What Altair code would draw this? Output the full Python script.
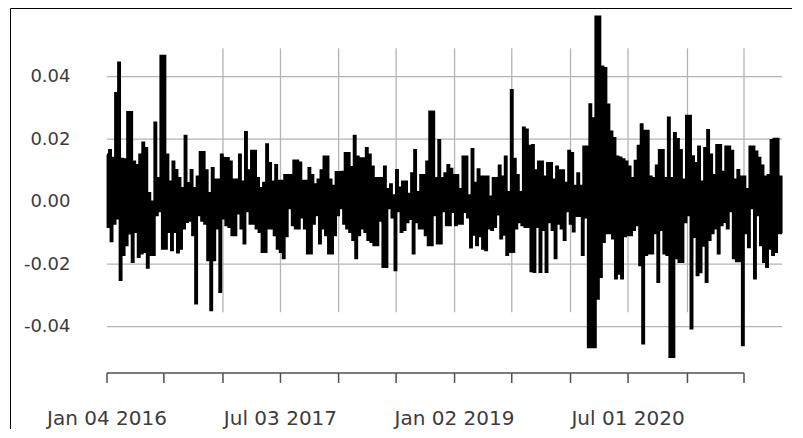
import altair as alt
import pandas as pd

# ---- data (upper / lower envelope of the daily return line) ----
high_1 = [0.0150, 0.0165, 0.0140, 0.0347, 0.0445, 0.0137, 0.0135, 0.0286, 0.0286, 0.0128, 0.0117, 0.0150, 0.0189, 0.0171,
          0.0027, 0.0000, 0.0253, 0.0075, 0.0466, 0.0466, 0.0150, 0.0064, 0.0128, 0.0101, 0.0075, 0.0043, 0.0210, 0.0059]
low_1 = [-0.0080, -0.0126, -0.0070, -0.0053, -0.0250, -0.0170, -0.0139, -0.0101, -0.0192, -0.0096, -0.0176, -0.0165, -0.0160, -0.0211,
         -0.0170, -0.0170, -0.0043, -0.0030, -0.0150, -0.0150, -0.0096, -0.0155, -0.0096, -0.0162, -0.0150, -0.0085, -0.0064, -0.0060]

high_2 = [0.0101, 0.0043, 0.0080, 0.0158, 0.0158, 0.0100, 0.0027, 0.0107, 0.0070, 0.0070, 0.0150, 0.0139, 0.0139, 0.0128,
          0.0070, 0.0070, 0.0150, 0.0064, 0.0222, 0.0100, 0.0162, 0.0162, 0.0075, 0.0043, 0.0060, 0.0183, 0.0123, 0.0064]
low_2 = [-0.0107, -0.0325, -0.0043, -0.0060, -0.0070, -0.0187, -0.0347, -0.0187, -0.0085, -0.0288, -0.0053, -0.0075, -0.0080, -0.0107,
         -0.0107, -0.0037, -0.0085, -0.0133, -0.0030, -0.0070, -0.0070, -0.0085, -0.0096, -0.0160, -0.0160, -0.0085, -0.0085, -0.0107]

high_3 = [0.0117, 0.0066, 0.0066, 0.0085, 0.0085, 0.0085, 0.0131, 0.0131, 0.0125, 0.0066, 0.0066, 0.0107, 0.0085, 0.0055, 0.0070,
          0.0100, 0.0144, 0.0144, 0.0070, 0.0050, 0.0094, 0.0094, 0.0095, 0.0155, 0.0155, 0.0110, 0.0210, 0.0144, 0.0138]
low_3 = [-0.0150, -0.0160, -0.0180, -0.0110, -0.0020, -0.0075, -0.0085, -0.0085, -0.0050, -0.0085, -0.0165, -0.0165, -0.0070, -0.0043,
         -0.0133, -0.0085, -0.0107, -0.0165, -0.0165, -0.0107, -0.0043, -0.0020, -0.0070, -0.0085, -0.0096, -0.0122, -0.0180, -0.0107, -0.0085]

high_4 = [0.0138, 0.0171, 0.0150, 0.0112, 0.0075, 0.0075, 0.0075, 0.0112, 0.0040, 0.0055, 0.0020, 0.0101, 0.0045, 0.0064,
          0.0064, 0.0025, 0.0090, 0.0165, 0.0030, 0.0085, 0.0085, 0.0128, 0.0288, 0.0288, 0.0075, 0.0197, 0.0075, 0.0090]
low_4 = [-0.0096, -0.0122, -0.0128, -0.0139, -0.0139, -0.0060, -0.0208, -0.0208, -0.0020, -0.0050, -0.0219, -0.0030, -0.0096, -0.0090,
         -0.0065, -0.0055, -0.0165, -0.0065, -0.0085, -0.0085, -0.0107, -0.0139, -0.0139, -0.0043, -0.0133, -0.0133, -0.0030, -0.0075]

high_5 = [0.0117, 0.0105, 0.0085, 0.0085, 0.0040, 0.0144, 0.0144, 0.0020, 0.0168, 0.0060, 0.0103, 0.0080, 0.0080, 0.0080,
          0.0016, 0.0075, 0.0075, 0.0115, 0.0080, 0.0144, 0.0030, 0.0357, 0.0137, 0.0085, 0.0030, 0.0237, 0.0230, 0.0178]
low_5 = [-0.0075, -0.0032, -0.0075, -0.0070, -0.0070, -0.0032, -0.0050, -0.0146, -0.0105, -0.0139, -0.0110, -0.0150, -0.0155, -0.0085,
         -0.0090, -0.0080, -0.0040, -0.0117, -0.0105, -0.0170, -0.0160, -0.0160, -0.0085, -0.0065, -0.0075, -0.0080, -0.0080, -0.0222]

high_6 = [0.0181, 0.0100, 0.0128, 0.0128, 0.0080, 0.0123, 0.0123, 0.0070, 0.0112, 0.0100, 0.0100, 0.0060, 0.0162, 0.0155,
          0.0050, 0.0090, 0.0050, 0.0176, 0.0176, 0.0311, 0.0266, 0.0592, 0.0592, 0.0432, 0.0427, 0.0310, 0.0224, 0.0203]
low_6 = [-0.0224, -0.0080, -0.0224, -0.0090, -0.0224, -0.0065, -0.0090, -0.0180, -0.0070, -0.0085, -0.0122, -0.0030, -0.0070, -0.0095,
         -0.0045, -0.0045, -0.0170, -0.0050, -0.0465, -0.0465, -0.0465, -0.0310, -0.0240, -0.0128, -0.0100, -0.0100, -0.0117, -0.0245]

high_7 = [0.0144, 0.0141, 0.0135, 0.0128, 0.0112, 0.0075, 0.0130, 0.0178, 0.0247, 0.0226, 0.0226, 0.0080, 0.0075, 0.0115, 0.0165,
          0.0165, 0.0075, 0.0269, 0.0075, 0.0219, 0.0200, 0.0165, 0.0070, 0.0274, 0.0274, 0.0145, 0.0123, 0.0176, 0.0064]
low_7 = [-0.0230, -0.0245, -0.0110, -0.0107, -0.0107, -0.0090, -0.0075, -0.0203, -0.0453, -0.0170, -0.0165, -0.0165, -0.0100, -0.0256,
         -0.0090, -0.0165, -0.0170, -0.0496, -0.0496, -0.0180, -0.0192, -0.0192, -0.0065, -0.0043, -0.0405, -0.0112, -0.0235, -0.0225, -0.0140]

high_8 = [0.0171, 0.0229, 0.0150, 0.0085, 0.0181, 0.0181, 0.0095, 0.0176, 0.0176, 0.0162, 0.0070, 0.0101, 0.0080,
          0.0080, 0.0040, 0.0176, 0.0176, 0.0160, 0.0140, 0.0115, 0.0080, 0.0085, 0.0197, 0.0201, 0.0201, 0.0080]
low_8 = [-0.0256, -0.0122, -0.0100, -0.0085, -0.0165, -0.0075, -0.0064, -0.0085, -0.0030, -0.0180, -0.0190, -0.0190, -0.0459,
         -0.0100, -0.0145, -0.0020, -0.0245, -0.0043, -0.0139, -0.0192, -0.0208, -0.0150, -0.0170, -0.0160, -0.0100, -0.0100]

first_day = "2016-01-04"
last_day = "2021-10-29"

tick_dates = ["2016-01-04", "2016-07-01", "2017-01-03", "2017-07-03", "2018-01-02", "2018-07-02",
              "2019-01-02", "2019-07-01", "2020-01-02", "2020-07-01", "2021-01-04", "2021-07-01"]
tick_labels = ["Jan 04 2016", "", "", "Jul 03 2017", "", "", "Jan 02 2019", "", "", "Jul 01 2020", "", ""]
grid_dates = tick_dates[2:]
y_ticks = [-0.04, -0.02, 0.0, 0.02, 0.04]

# ---- build table ----
highs = high_1 + high_2 + high_3 + high_4 + high_5 + high_6 + high_7 + high_8
lows = low_1 + low_2 + low_3 + low_4 + low_5 + low_6 + low_7 + low_8
assert len(highs) == len(lows)
values = []
for h, l in zip(highs, lows):
    values += [h, l]
dates = pd.date_range(first_day, last_day, periods=len(values))
series = pd.DataFrame({"date": dates.strftime("%Y-%m-%dT%H:%M:%S"), "ret": values})

# ---- layout (pixels) ----
W, H = 782, 421
plot_left = 10           # page x of the plot area's left edge
px_tick0, px_tick_last = 107, 744
t0 = pd.Timestamp(tick_dates[0])
tl = pd.Timestamp(tick_dates[-1])
px_per_day = (px_tick_last - px_tick0) / (tl - t0).days
d_start = t0 - pd.Timedelta(days=(px_tick0 - plot_left) / px_per_day)
d_end = t0 + pd.Timedelta(days=(plot_left + W - px_tick0) / px_per_day)


def dt(ts):
    return alt.DateTime(year=ts.year, month=ts.month, date=ts.day, hours=ts.hour, minutes=ts.minute)


# y pixel 8 -> top of plot, 0 at pixel 201.7, 0.02 per 62.5 px
y_top, y_bottom = 0.06198, -0.07274
x_scale = alt.Scale(domain=[dt(d_start), dt(d_end)])
y_scale = alt.Scale(domain=[y_bottom, y_top], nice=False, zero=False)

x_axis = alt.Axis(orient="top", labels=False, ticks=False, grid=False, domainColor="#000000",
                  domainWidth=1, title=None)
y_axis = alt.Axis(orient="left", values=y_ticks, ticks=False, tickSize=0, grid=False,
                  domainColor="#000000", domainWidth=1, title=None,
                  labelExpr="replace(format(datum.value, '.2f'), '\u2212', '-')",
                  labelPadding=-60, labelAlign="right", labelBaseline="middle",
                  labelFont="DejaVu Sans", labelFontSize=18, labelColor="#3c3c3c")

X = lambda f: alt.X(f, type="temporal", scale=x_scale, axis=x_axis)
Y = lambda f: alt.Y(f, type="quantitative", scale=y_scale, axis=y_axis)

grid_col = "#b4b4b4"
axis_col = "#505050"
vgrid_top, vgrid_bottom = 0.0491, -0.0354
axis_y, tick_end_y, label_y = -0.0548, -0.0580, -0.07146

hgrid_df = pd.DataFrame({"start": [first_day] * len(y_ticks), "end": [last_day] * len(y_ticks), "v": y_ticks})
vgrid_df = pd.DataFrame({"d": grid_dates, "top": vgrid_top, "bot": vgrid_bottom})
ticks_df = pd.DataFrame({"d": tick_dates, "label": tick_labels,
                         "ay": axis_y, "ty": tick_end_y, "ly": label_y})
axis_df = pd.DataFrame({"s": [tick_dates[0]], "e": [tick_dates[-1]], "ay": [axis_y]})

hgrid = alt.Chart(hgrid_df).mark_rule(color=grid_col, strokeWidth=1.3).encode(
    x=X("start:T"), x2="end:T", y=Y("v:Q"))
vgrid = alt.Chart(vgrid_df).mark_rule(color=grid_col, strokeWidth=1.3).encode(
    x=X("d:T"), y=Y("top:Q"), y2="bot:Q")
line = alt.Chart(series).mark_line(color="#000000", strokeWidth=2.4, interpolate="step",
                                   strokeJoin="miter").encode(
    x=X("date:T"), y=Y("ret:Q"))
axis_line = alt.Chart(axis_df).mark_rule(color=axis_col, strokeWidth=1.5).encode(
    x=X("s:T"), x2="e:T", y=Y("ay:Q"))
tick_marks = alt.Chart(ticks_df).mark_rule(color=axis_col, strokeWidth=1.5).encode(
    x=X("d:T"), y=Y("ay:Q"), y2="ty:Q")
tick_text = alt.Chart(ticks_df).transform_filter("datum.label != ''").mark_text(
    font="DejaVu Sans", fontSize=20, color="#3c3c3c", align="center", baseline="alphabetic").encode(
    x=X("d:T"), y=Y("ly:Q"), text="label:N")

chart = alt.layer(hgrid, vgrid, line, axis_line, tick_marks, tick_text).properties(
    width=W, height=H, autosize=alt.AutoSizeParams(type="none"),
    padding={"left": 2, "top": 0, "right": 0, "bottom": 0},
    background="#ffffff",
).configure_view(stroke=None)

chart.save("out.html", embed_options={"renderer": "svg", "actions": False})
